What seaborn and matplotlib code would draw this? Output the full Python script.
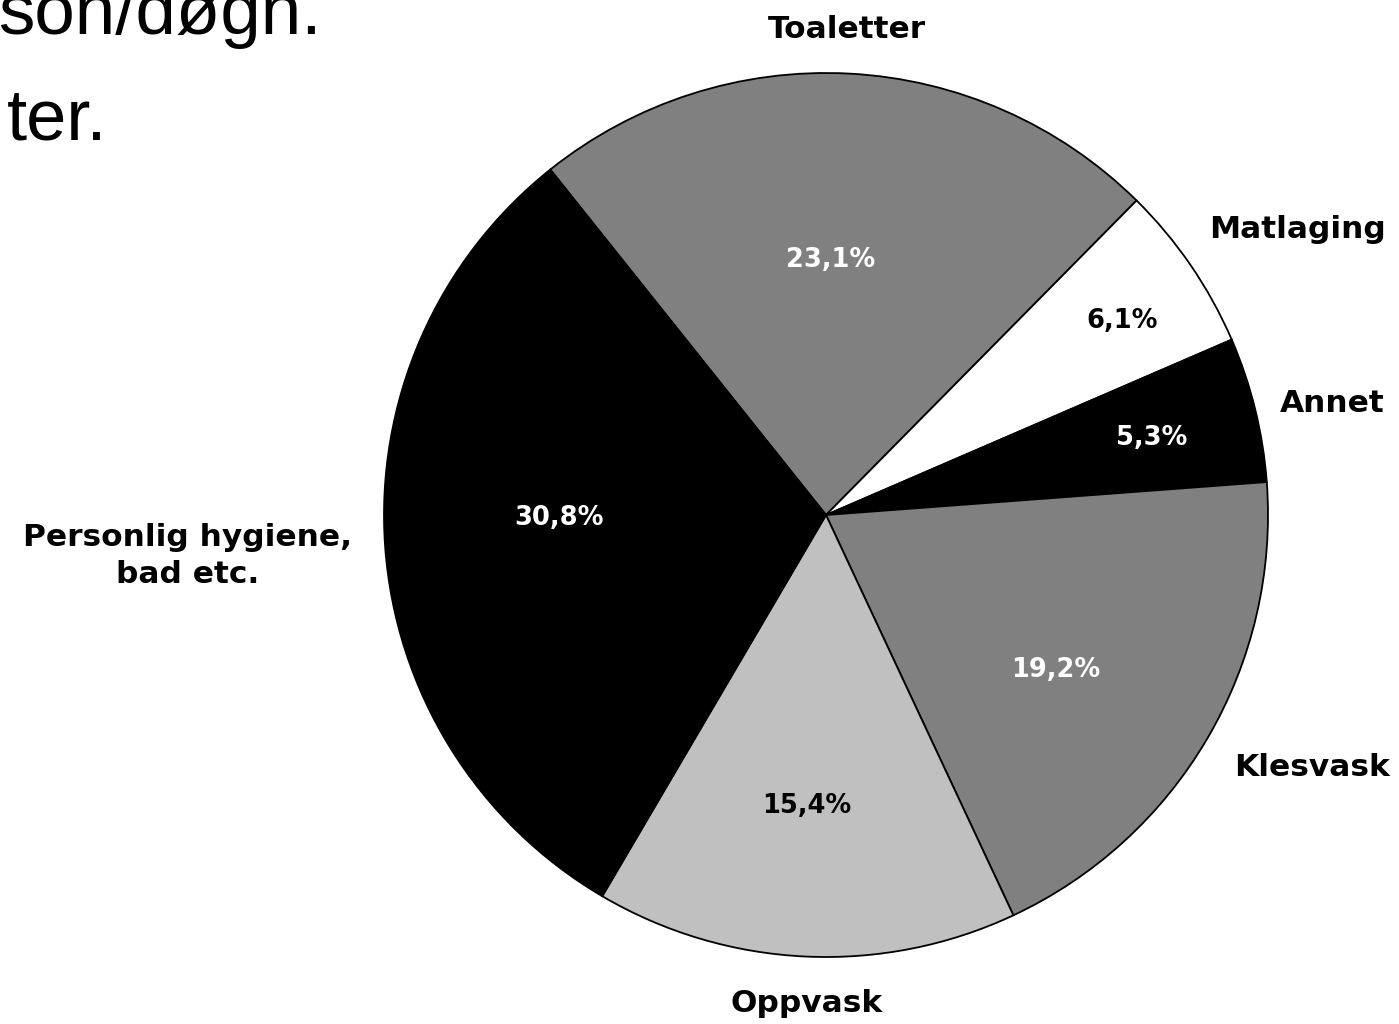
import matplotlib
matplotlib.use("Agg")
import matplotlib.pyplot as plt
import seaborn as sns

# ─── Données ────────────────────────────────────────────────────────────────
categories = ['Toaletter', 'Matlaging', 'Annet', 'Klesvask', 'Oppvask',
              'Personlig hygiene,\nbad etc.']
shares     = [23.1, 6.1, 5.3, 19.2, 15.4, 30.8]
slice_cols = ['#808080', '#FFFFFF', '#000000', '#808080', '#C0C0C0', '#000000']
pct_cols   = ['white', 'black', 'white', 'white', 'black', 'white']

# positions des textes (pixels, origine en haut à gauche)
label_xy = [(847, 30), (1298, 229), (1332, 404), (1312, 767), (807, 1003), (188, 556)]
pct_xy   = [(831, 260), (1122, 321), (1152, 438), (1056, 670), (807, 806), (559, 518)]

W, H = 1399, 1024

# ─── Style ──────────────────────────────────────────────────────────────────
sns.set_theme(style='white')
plt.rcParams['font.family'] = ['DejaVu Sans']

fig = plt.figure(figsize=(W / 100, H / 100), dpi=100)
fig.patch.set_facecolor('white')
ax = fig.add_axes([0, 0, 1, 1])

wedges, texts, autotexts = ax.pie(
    shares, labels=categories, colors=slice_cols,
    startangle=128.6, counterclock=False,
    center=(826, H - 515), radius=442,
    autopct=lambda p: f'{p:.1f}%'.replace('.', ','),
    wedgeprops={'edgecolor': 'black', 'linewidth': 1.3},
    textprops={'fontsize': 22.5, 'fontweight': 'bold', 'color': 'black'},
)

for t, (x, y) in zip(texts, label_xy):
    t.set_position((x, H - y))
    t.set_ha('center')
    t.set_va('center')
    t.set_multialignment('center')
    t.set_linespacing(1.35)

for t, (x, y), c in zip(autotexts, pct_xy, pct_cols):
    t.set_position((x, H - y))
    t.set_color(c)
    t.set_fontsize(18.5)
    t.set_fontweight('bold')

ax.set_xlim(0, W)
ax.set_ylim(0, H)
ax.set_aspect('auto')
ax.axis('off')

# morceau de texte de la diapositive (coupé en haut, comme l'original)
ax.text(-2, H - 34, 'son/døgn.', fontsize=52.5, family='Liberation Sans',
        ha='left', va='baseline', color='black')
ax.text(7, H - 140, 'ter.', fontsize=52, family='Liberation Sans',
        ha='left', va='baseline', color='black')

fig.savefig('out.png', dpi=100, facecolor='white')
plt.close(fig)
